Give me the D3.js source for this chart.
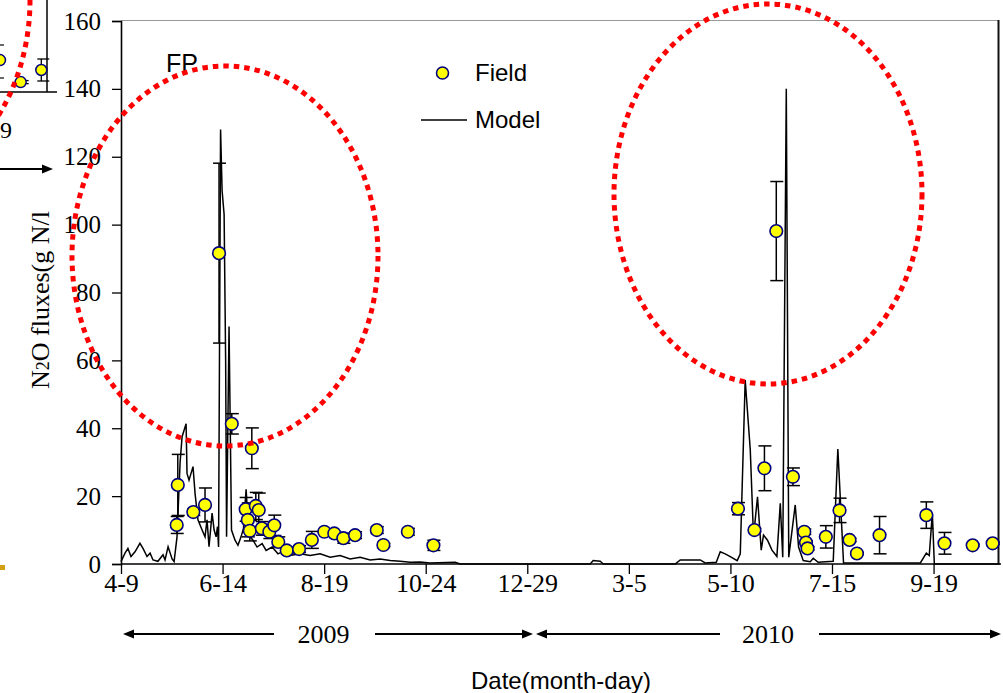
<!doctype html>
<html>
<head>
<meta charset="utf-8">
<title>N2O fluxes</title>
<style>
  body { margin: 0; background: #fff; }
  svg { display: block; }
</style>
</head>
<body>
<script src="https://d3js.org/d3.v7.min.js"></script>
<script>
  // days counted from 2009-04-09
  var tickDays = [0, 66, 132, 198, 264, 330, 396, 462, 528];
  var tickLabels = ["4-9", "6-14", "8-19", "10-24", "12-29", "3-5", "5-10", "7-15", "9-19"];
  var yTicks = [0, 20, 40, 60, 80, 100, 120, 140, 160];

  // simulated flux (model)
  var modelDays = [0, 2.6, 4.5, 6.5, 9.1, 12.3, 14.3, 16.9, 18.9, 20.8, 24, 27.3, 28.6, 30.6, 33.2, 34.5,
    36.4, 38.4, 39.7, 42.3, 42.9, 44.2, 46.8, 48.1, 50, 52.7, 54.6, 55.9, 57.2, 59.2, 60.5, 61.8, 62.7, 63.4,
    64.7, 65.7, 67, 68, 68.6, 70.2, 71.8, 74.1, 76, 78, 79.6, 81.3, 82.6, 83.9, 85.8, 88.4, 91.7, 94.3, 98.2,
    102, 106.6, 109.9, 116.4, 122.9, 129.4, 135.9, 142.4, 148.9, 155.4, 161.9, 168.4, 174.9, 181.4, 187.9,
    194.4, 200.9, 217.1, 220.4, 304.9, 306.8, 311.4, 313.4, 360.1, 363.4, 376.4, 379.6, 386.8, 389.4, 392.6,
    395.9, 400.4, 402.4, 405.6, 408.9, 411, 413.6, 416, 417.5, 420.1, 423, 426.2, 428.4, 430, 432.3, 433.9,
    438.1, 440.3, 443.3, 447.9, 449.8, 453, 462.8, 465.8, 469.5, 519.4, 523.3, 525.2, 527.2, 528.5, 571];
  var modelVals = [0.7, 3.2, 4.6, 2.2, 3.6, 6.1, 4.6, 2.2, 3.2, 1.2, 0.8, 2.7, 1.2, 5.1, 1.5, 0.7,
    8, 30, 37.5, 41.3, 26.7, 24.7, 28.7, 20.9, 13, 10, 8, 13, 5.1, 15, 10, 8, 11, 5,
    128, 110, 103, 60, 8, 70, 10, 7, 5.5, 8, 10.5, 22, 12, 8, 7, 5, 6, 4, 5,
    3, 4, 2.5, 3, 2.5, 3, 2, 2.5, 1.5, 2, 1.2, 1.5, 1, 0.8, 0.5,
    0.6, 0.3, 0.5, 0, 0, 1, 0.8, 0, 0, 1.2, 1.2, 0.3, 0.5, 3.6, 3,
    2.2, 1, 3, 54.2, 33.6, 8, 19.8, 4.1, 8.5, 7, 4.1, 2.2, 17.9, 2, 140, 2,
    17.4, 5, 1, 0.7, 1.7, 0.5, 0.8, 33.9, 0.3, 0.3, 3.2, 2.5, 15, 0, 0];

  // measured flux (field) with error
  var fieldDays = [36.2, 36.9, 47, 54.6, 63.7, 72, 85, 81, 82.4, 83.7, 87.6, 89.5, 91.5, 96.4, 99.6, 102.2,
    107.7, 115.7, 124, 132.1, 138.6, 144.5, 152.1, 166.2, 170.5, 186.4, 203,
    400.9, 411.6, 418.1, 425.8, 436.6, 444, 445.1, 446.1, 458, 466.9, 473.4, 478.2, 492.9, 523.3, 535.1, 553.4, 566.4];
  var fieldVals = [11.5, 23.3, 15.3, 17.4, 91.6, 41.3, 34.1, 16.1, 13, 9.8, 17.1, 15.9, 10.5, 9.5, 11.4, 6.5,
    4, 4.4, 7.1, 9.5, 9, 7.6, 8.5, 10, 5.6, 9.5, 5.5,
    16.3, 10, 28.2, 98.1, 25.7, 9.5, 6.3, 4.6, 8, 15.8, 7.1, 3.1, 8.5, 14.4, 6.1, 5.5, 6.1];
  var fieldErr = [2.5, 9, 1, 5, 26.5, 3, 6, 3.5, 5, 3, 4, 5, 2, 2, 3, 1.5,
    1, 1, 2.5, 0.5, 0.5, 1.5, 1, 1, 0.5, 1, 1.5,
    1.8, 0.5, 6.6, 14.6, 2.6, 0.8, 0.5, 0.5, 3.3, 3.6, 0.5, 0.3, 5.5, 3.9, 3.2, 0.3, 0.3];

  // fragment of the neighbouring chart, top left
  var insetDays = [0, 1, 2];
  var insetVals = [14.5, 4.5, 10];
  var insetErr = [0, 0.7, 5];

  var w = 1003, h = 693;
  var serif = "'Liberation Serif', 'Times New Roman', serif";
  var sans = "'Liberation Sans', Arial, sans-serif";

  var svg = d3.select("body").append("svg")
    .attr("width", w)
    .attr("height", h);

  var x = d3.scaleLinear().domain([0, 570]).range([121, 998.2]);
  var y = d3.scaleLinear().domain([0, 160]).range([564, 21]);

  // plot frame (top and right)
  svg.append("line").attr("x1", 121).attr("x2", 998).attr("y1", 20.5).attr("y2", 20.5)
    .attr("stroke", "#999").attr("stroke-width", 1);
  svg.append("line").attr("x1", 998.5).attr("x2", 998.5).attr("y1", 20).attr("y2", 564)
    .attr("stroke", "#111").attr("stroke-width", 2);

  // axes
  var yAxis = svg.append("g")
    .attr("transform", "translate(121,0)")
    .call(d3.axisLeft(y).tickValues(yTicks).tickSize(9).tickPadding(11));
  yAxis.selectAll("text").style("font-family", serif).style("font-size", "25px").attr("fill", "#000");

  var xAxis = svg.append("g")
    .attr("transform", "translate(0,564)")
    .call(d3.axisBottom(x).tickValues(tickDays).tickSize(10).tickPadding(0)
      .tickFormat(function(d, i) { return tickLabels[i]; }));
  xAxis.selectAll("text").style("font-family", serif).style("font-size", "26px").attr("fill", "#000");
  svg.selectAll(".domain").attr("stroke", "#000").attr("stroke-width", 1.6);
  svg.selectAll(".tick line").attr("stroke", "#000").attr("stroke-width", 1.3);
  xAxis.select(".domain").attr("d", "M121,0H1001");

  // model line
  var modelData = modelDays.map(function(d, i) { return [d, modelVals[i]]; });
  var line = d3.line()
    .x(function(d) { return x(d[0]); })
    .y(function(d) { return y(d[1]); });
  svg.append("path")
    .datum(modelData)
    .attr("d", line)
    .attr("fill", "none")
    .attr("stroke", "#000")
    .attr("stroke-width", 1.5)
    .attr("stroke-linejoin", "miter");

  // field points with error bars
  var fieldData = fieldDays.map(function(d, i) { return {d: d, v: fieldVals[i], e: fieldErr[i]}; });
  var err = svg.append("g").attr("stroke", "#000").attr("stroke-width", 1.5);
  fieldData.forEach(function(p) {
    var cx = x(p.d);
    err.append("line").attr("x1", cx).attr("x2", cx).attr("y1", y(p.v + p.e)).attr("y2", y(p.v - p.e));
    err.append("line").attr("x1", cx - 6).attr("x2", cx + 7).attr("y1", y(p.v + p.e)).attr("y2", y(p.v + p.e));
    err.append("line").attr("x1", cx - 6).attr("x2", cx + 7).attr("y1", y(p.v - p.e)).attr("y2", y(p.v - p.e));
  });
  svg.append("g").selectAll("circle")
    .data(fieldData)
    .enter()
    .append("circle")
    .attr("cx", function(p) { return x(p.d); })
    .attr("cy", function(p) { return y(p.v); })
    .attr("r", 6.3)
    .attr("fill", "#ffff00")
    .attr("stroke", "#000080")
    .attr("stroke-width", 1.6);

  // legend
  svg.append("circle").attr("cx", 442.5).attr("cy", 73).attr("r", 6)
    .attr("fill", "#ffff00").attr("stroke", "#000080").attr("stroke-width", 1.6);
  svg.append("text").attr("x", 475).attr("y", 81).text("Field")
    .style("font-family", sans).style("font-size", "24px");
  svg.append("line").attr("x1", 421).attr("x2", 467).attr("y1", 120).attr("y2", 120)
    .attr("stroke", "#000").attr("stroke-width", 1.3);
  svg.append("text").attr("x", 475).attr("y", 128).text("Model")
    .style("font-family", sans).style("font-size", "24px");

  svg.append("text").attr("x", 166).attr("y", 72).text("FP")
    .style("font-family", sans).style("font-size", "25px");

  // y title
  var yt = svg.append("text")
    .attr("transform", "translate(49,300) rotate(-90)")
    .attr("text-anchor", "middle")
    .style("font-family", serif).style("font-size", "26px");
  yt.append("tspan").text("N");
  yt.append("tspan").text("2").style("font-size", "18px");
  yt.append("tspan").text("O fluxes(g N/l");

  // year arrows
  var arrows = [[274, 123], [375, 533], [720, 536], [819, 1001]];
  var ag = svg.append("g");
  arrows.forEach(function(a) {
    var dir = a[1] > a[0] ? 1 : -1;
    ag.append("line").attr("x1", a[0]).attr("x2", a[1] - dir * 8).attr("y1", 634).attr("y2", 634)
      .attr("stroke", "#000").attr("stroke-width", 2);
    ag.append("path")
      .attr("d", "M" + a[1] + ",634L" + (a[1] - dir * 11) + ",629.5L" + (a[1] - dir * 11) + ",638.5Z")
      .attr("fill", "#000");
  });
  svg.append("text").attr("x", 323.5).attr("y", 643).attr("text-anchor", "middle").text("2009")
    .style("font-family", serif).style("font-size", "26px");
  svg.append("text").attr("x", 768).attr("y", 643).attr("text-anchor", "middle").text("2010")
    .style("font-family", serif).style("font-size", "26px");

  svg.append("text").attr("x", 561).attr("y", 689).attr("text-anchor", "middle").text("Date(month-day)")
    .style("font-family", sans).style("font-size", "24px");

  // fragment of neighbouring chart
  var ix = d3.scaleLinear().domain([0, 2]).range([0, 41.3]);
  var iy = d3.scaleLinear().domain([0, 10]).range([92, 70]);
  var ins = svg.append("g");
  ins.append("line").attr("x1", 47).attr("x2", 47).attr("y1", 0).attr("y2", 92).attr("stroke", "#000").attr("stroke-width", 1.5);
  ins.append("line").attr("x1", 0).attr("x2", 57).attr("y1", 92).attr("y2", 92).attr("stroke", "#000").attr("stroke-width", 1.5);
  [45, 78].forEach(function(t) {
    ins.append("line").attr("x1", 0).attr("x2", 4).attr("y1", t).attr("y2", t).attr("stroke", "#000").attr("stroke-width", 1.2);
  });
  insetDays.forEach(function(d, i) {
    var cx = ix(d), e = insetErr[i];
    if (e > 0) {
      ins.append("line").attr("x1", cx).attr("x2", cx).attr("y1", iy(insetVals[i] + e)).attr("y2", iy(insetVals[i] - e)).attr("stroke", "#000").attr("stroke-width", 1.3);
      ins.append("line").attr("x1", cx - 4).attr("x2", cx + 8).attr("y1", iy(insetVals[i] + e)).attr("y2", iy(insetVals[i] + e)).attr("stroke", "#000").attr("stroke-width", 1.3);
      ins.append("line").attr("x1", cx - 4).attr("x2", cx + 8).attr("y1", iy(insetVals[i] - e)).attr("y2", iy(insetVals[i] - e)).attr("stroke", "#000").attr("stroke-width", 1.3);
    }
    ins.append("circle").attr("cx", cx).attr("cy", iy(insetVals[i])).attr("r", 5.5)
      .attr("fill", "#ffff00").attr("stroke", "#000080").attr("stroke-width", 1.5);
  });
  ins.append("text").attr("x", 0).attr("y", 138).text("9")
    .style("font-family", serif).style("font-size", "24px");
  ins.append("line").attr("x1", 0).attr("x2", 44).attr("y1", 169).attr("y2", 169).attr("stroke", "#000").attr("stroke-width", 2);
  ins.append("path").attr("d", "M53,169L42,164.5L42,173.5Z").attr("fill", "#000");
  svg.append("rect").attr("x", 0).attr("y", 565).attr("width", 5).attr("height", 5).attr("fill", "#d4a010");

  // red dotted ellipses
  var ellipses = [[225, 256, 153, 190], [768, 194, 154, 190], [-123, 0, 153, 190]];
  svg.append("g").selectAll("ellipse")
    .data(ellipses)
    .enter()
    .append("ellipse")
    .attr("cx", function(e) { return e[0]; })
    .attr("cy", function(e) { return e[1]; })
    .attr("rx", function(e) { return e[2]; })
    .attr("ry", function(e) { return e[3]; })
    .attr("fill", "none")
    .attr("stroke", "#ff0000")
    .attr("stroke-width", 5)
    .attr("stroke-dasharray", "5.5,5");
</script>
</body>
</html>
